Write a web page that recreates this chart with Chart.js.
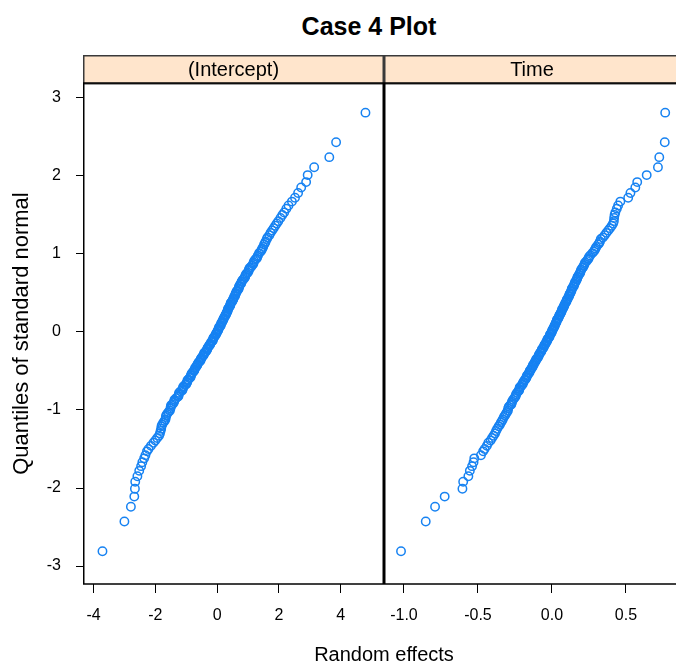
<!DOCTYPE html>
<html>
<head>
<meta charset="utf-8">
<script src="https://cdn.jsdelivr.net/npm/chart.js@4.4.0/dist/chart.umd.min.js"></script>
<style>
  body { margin: 0; background: #fff; width: 676px; height: 667px; overflow: hidden; position: relative;
         font-family: "Liberation Sans", Arial, sans-serif; color: #000; }
  .panel { position: absolute; top: 0; }
  #main { position: absolute; left: 0; top: 11px; width: 738px; text-align: center;
          font-weight: bold; font-size: 25px; line-height: 30px; }
  #xlab { position: absolute; left: 184px; top: 639px; width: 400px; text-align: center;
          font-size: 20px; line-height: 30px; }
</style>
</head>
<body>
<div id="main">Case 4 Plot</div>
<canvas id="left" class="panel" width="384" height="667" style="left:0"></canvas>
<canvas id="right" class="panel" width="296" height="667" style="left:384px"></canvas>
<div id="xlab">Random effects</div>
<script>
// normal quantiles, shared by both panels (200 random effects)
const normalQuantiles = [
  -2.81,-2.43,-2.24,-2.11,-2.01,-1.92,-1.85,-1.78,-1.72,-1.67,
  -1.62,-1.58,-1.53,-1.50,-1.46,-1.42,-1.39,-1.36,-1.33,-1.30,
  -1.27,-1.24,-1.21,-1.19,-1.16,-1.14,-1.12,-1.09,-1.07,-1.05,
  -1.03,-1.01,-0.98,-0.96,-0.94,-0.93,-0.91,-0.89,-0.87,-0.85,
  -0.83,-0.82,-0.80,-0.78,-0.76,-0.75,-0.73,-0.71,-0.70,-0.68,
  -0.67,-0.65,-0.64,-0.62,-0.61,-0.59,-0.58,-0.56,-0.55,-0.53,
  -0.52,-0.50,-0.49,-0.48,-0.46,-0.45,-0.43,-0.42,-0.41,-0.39,
  -0.38,-0.37,-0.35,-0.34,-0.33,-0.31,-0.30,-0.29,-0.27,-0.26,
  -0.25,-0.23,-0.22,-0.21,-0.20,-0.18,-0.17,-0.16,-0.15,-0.13,
  -0.12,-0.11,-0.09,-0.08,-0.07,-0.06,-0.04,-0.03,-0.02,-0.01,
  0.01,0.02,0.03,0.04,0.06,0.07,0.08,0.09,0.11,0.12,
  0.13,0.15,0.16,0.17,0.18,0.20,0.21,0.22,0.23,0.25,
  0.26,0.27,0.29,0.30,0.31,0.33,0.34,0.35,0.37,0.38,
  0.39,0.41,0.42,0.43,0.45,0.46,0.48,0.49,0.50,0.52,
  0.53,0.55,0.56,0.58,0.59,0.61,0.62,0.64,0.65,0.67,
  0.68,0.70,0.71,0.73,0.75,0.76,0.78,0.80,0.82,0.83,
  0.85,0.87,0.89,0.91,0.93,0.94,0.96,0.98,1.01,1.03,
  1.05,1.07,1.09,1.12,1.14,1.16,1.19,1.21,1.24,1.27,
  1.30,1.33,1.36,1.39,1.42,1.46,1.50,1.53,1.58,1.62,
  1.67,1.72,1.78,1.85,1.92,2.01,2.11,2.24,2.43,2.81
];

// sorted random effects, (Intercept)
const interceptEffects = [
  -3.71,-3.00,-2.79,-2.68,-2.66,-2.65,-2.58,-2.52,-2.46,-2.42,
  -2.36,-2.32,-2.27,-2.22,-2.14,-2.06,-2.00,-1.94,-1.88,-1.85,
  -1.83,-1.81,-1.80,-1.78,-1.74,-1.70,-1.67,-1.66,-1.65,-1.62,
  -1.58,-1.53,-1.51,-1.50,-1.49,-1.45,-1.41,-1.39,-1.38,-1.33,
  -1.27,-1.25,-1.24,-1.23,-1.18,-1.13,-1.11,-1.10,-1.09,-1.04,
  -1.00,-0.98,-0.97,-0.96,-0.93,-0.89,-0.86,-0.85,-0.84,-0.82,
  -0.79,-0.75,-0.74,-0.73,-0.71,-0.68,-0.65,-0.64,-0.63,-0.60,
  -0.57,-0.54,-0.53,-0.52,-0.50,-0.47,-0.44,-0.43,-0.42,-0.39,
  -0.36,-0.33,-0.32,-0.31,-0.30,-0.27,-0.24,-0.23,-0.22,-0.19,
  -0.16,-0.14,-0.13,-0.12,-0.11,-0.08,-0.05,-0.04,-0.03,-0.01,
  0.01,0.03,0.04,0.05,0.06,0.09,0.11,0.12,0.13,0.15,
  0.17,0.19,0.20,0.21,0.22,0.25,0.27,0.28,0.29,0.31,
  0.33,0.34,0.35,0.36,0.38,0.41,0.42,0.43,0.44,0.46,
  0.49,0.51,0.52,0.53,0.55,0.58,0.59,0.60,0.61,0.63,
  0.66,0.69,0.70,0.71,0.72,0.75,0.78,0.79,0.80,0.83,
  0.87,0.90,0.91,0.92,0.95,0.99,1.02,1.03,1.05,1.09,
  1.13,1.17,1.18,1.20,1.24,1.28,1.30,1.32,1.36,1.41,
  1.44,1.46,1.49,1.52,1.55,1.57,1.61,1.63,1.69,1.73,
  1.78,1.83,1.88,1.93,1.98,2.05,2.11,2.17,2.24,2.31,
  2.42,2.52,2.62,2.72,2.88,2.93,3.14,3.63,3.85,4.80
];

// sorted random effects, Time
const timeEffects = [
  -1.020,-0.853,-0.790,-0.725,-0.605,-0.600,-0.565,-0.555,-0.540,-0.530,
  -0.525,-0.480,-0.465,-0.455,-0.440,-0.430,-0.415,-0.405,-0.395,-0.385,
  -0.378,-0.370,-0.360,-0.352,-0.345,-0.338,-0.332,-0.325,-0.318,-0.312,
  -0.305,-0.298,-0.296,-0.292,-0.283,-0.275,-0.272,-0.270,-0.263,-0.255,
  -0.248,-0.245,-0.243,-0.236,-0.228,-0.222,-0.220,-0.218,-0.210,-0.204,
  -0.198,-0.195,-0.193,-0.186,-0.180,-0.174,-0.172,-0.170,-0.163,-0.158,
  -0.152,-0.150,-0.148,-0.142,-0.137,-0.131,-0.129,-0.127,-0.121,-0.117,
  -0.112,-0.109,-0.107,-0.101,-0.096,-0.091,-0.089,-0.087,-0.081,-0.077,
  -0.072,-0.069,-0.067,-0.061,-0.057,-0.053,-0.051,-0.049,-0.043,-0.039,
  -0.034,-0.032,-0.030,-0.024,-0.020,-0.016,-0.014,-0.012,-0.007,-0.003,
  0.000,0.002,0.004,0.009,0.013,0.016,0.018,0.020,0.025,0.028,
  0.031,0.033,0.035,0.040,0.044,0.048,0.050,0.052,0.057,0.061,
  0.064,0.066,0.068,0.073,0.077,0.081,0.083,0.085,0.090,0.094,
  0.098,0.100,0.102,0.107,0.112,0.116,0.118,0.120,0.125,0.129,
  0.132,0.134,0.136,0.143,0.148,0.151,0.153,0.156,0.162,0.166,
  0.170,0.172,0.175,0.181,0.187,0.191,0.194,0.198,0.205,0.210,
  0.216,0.220,0.224,0.235,0.243,0.247,0.250,0.258,0.273,0.282,
  0.289,0.294,0.299,0.312,0.320,0.324,0.330,0.344,0.356,0.368,
  0.380,0.392,0.404,0.413,0.418,0.420,0.423,0.428,0.438,0.447,
  0.462,0.515,0.530,0.563,0.576,0.640,0.716,0.725,0.762,0.765
];

const yTicks = [-3, -2, -1, 0, 1, 2, 3];
const interceptTicks = [-4, -2, 0, 2, 4];
const timeTicks = [-1.0, -0.5, 0.0, 0.5];

Chart.defaults.font.family = '"Liberation Sans", Arial, sans-serif';
Chart.defaults.color = '#000';

// peach strip above each panel plus the panel frame
const stripPanel = {
  id: 'stripPanel',
  afterDraw(chart, args, opts) {
    const { ctx, chartArea: a } = chart;
    const h = 28;
    ctx.save();
    ctx.fillStyle = '#ffe5cc';
    ctx.fillRect(a.left, a.top - h, a.right - a.left, h);
    ctx.strokeStyle = '#3a3a3a';
    ctx.lineWidth = 1.5;
    ctx.strokeRect(a.left + 0.75, a.top - h + 0.75, a.right - a.left - 1.5, h);
    ctx.fillStyle = '#000';
    ctx.font = '20px "Liberation Sans", Arial, sans-serif';
    ctx.textAlign = 'center';
    ctx.textBaseline = 'middle';
    ctx.fillText(opts.label, (a.left + a.right) / 2, a.top - h / 2 + 1);
    ctx.strokeStyle = '#000';
    ctx.strokeRect(a.left + 0.75, a.top, a.right - a.left - 1.5, a.bottom - a.top);
    ctx.restore();
  }
};

function makePanel(id, label, xs, xMin, xMax, xTicks, fmt, showY) {
  new Chart(document.getElementById(id), {
    type: 'scatter',
    data: {
      datasets: [{
        data: xs.map((x, i) => ({ x: x, y: normalQuantiles[i] })),
        pointStyle: 'circle',
        pointRadius: 4.2,
        pointHoverRadius: 4.2,
        borderWidth: 1.5,
        borderColor: '#1682f2',
        backgroundColor: 'rgba(0,0,0,0)'
      }]
    },
    options: {
      responsive: false,
      animation: false,
      events: [],
      layout: { autoPadding: false, padding: { top: 83, left: 0, right: 0, bottom: 0 } },
      plugins: {
        legend: { display: false },
        tooltip: { enabled: false },
        stripPanel: { label: label }
      },
      scales: {
        x: {
          type: 'linear',
          min: xMin,
          max: xMax,
          afterFit: s => { s.height = 83; s.paddingLeft = 0; s.paddingRight = 0; },
          afterBuildTicks: s => { s.ticks = xTicks.map(v => ({ value: v })); },
          border: { display: false },
          grid: { display: true, drawOnChartArea: false, drawTicks: true, tickLength: 9, tickColor: '#000' },
          ticks: { padding: 13, font: { size: 16 }, callback: fmt }
        },
        y: {
          type: 'linear',
          display: showY,
          min: -3.23,
          max: 3.19,
          afterFit: s => { s.width = showY ? 83 : 0; s.paddingTop = 0; s.paddingBottom = 0; },
          afterBuildTicks: s => { s.ticks = yTicks.map(v => ({ value: v })); },
          border: { display: false },
          grid: { display: true, drawOnChartArea: false, drawTicks: true, tickLength: 7, tickColor: '#000' },
          ticks: { padding: 15, font: { size: 16 }, callback: v => String(v) },
          title: { display: true, text: 'Quantiles of standard normal', font: { size: 22 }, padding: { top: 9 } }
        }
      }
    },
    plugins: [stripPanel]
  });
}

makePanel('left', '(Intercept)', interceptEffects, -4.34, 5.40, interceptTicks, v => String(v), true);
makePanel('right', 'Time', timeEffects, -1.135, 0.865, timeTicks, v => v.toFixed(1), false);
</script>
</body>
</html>
